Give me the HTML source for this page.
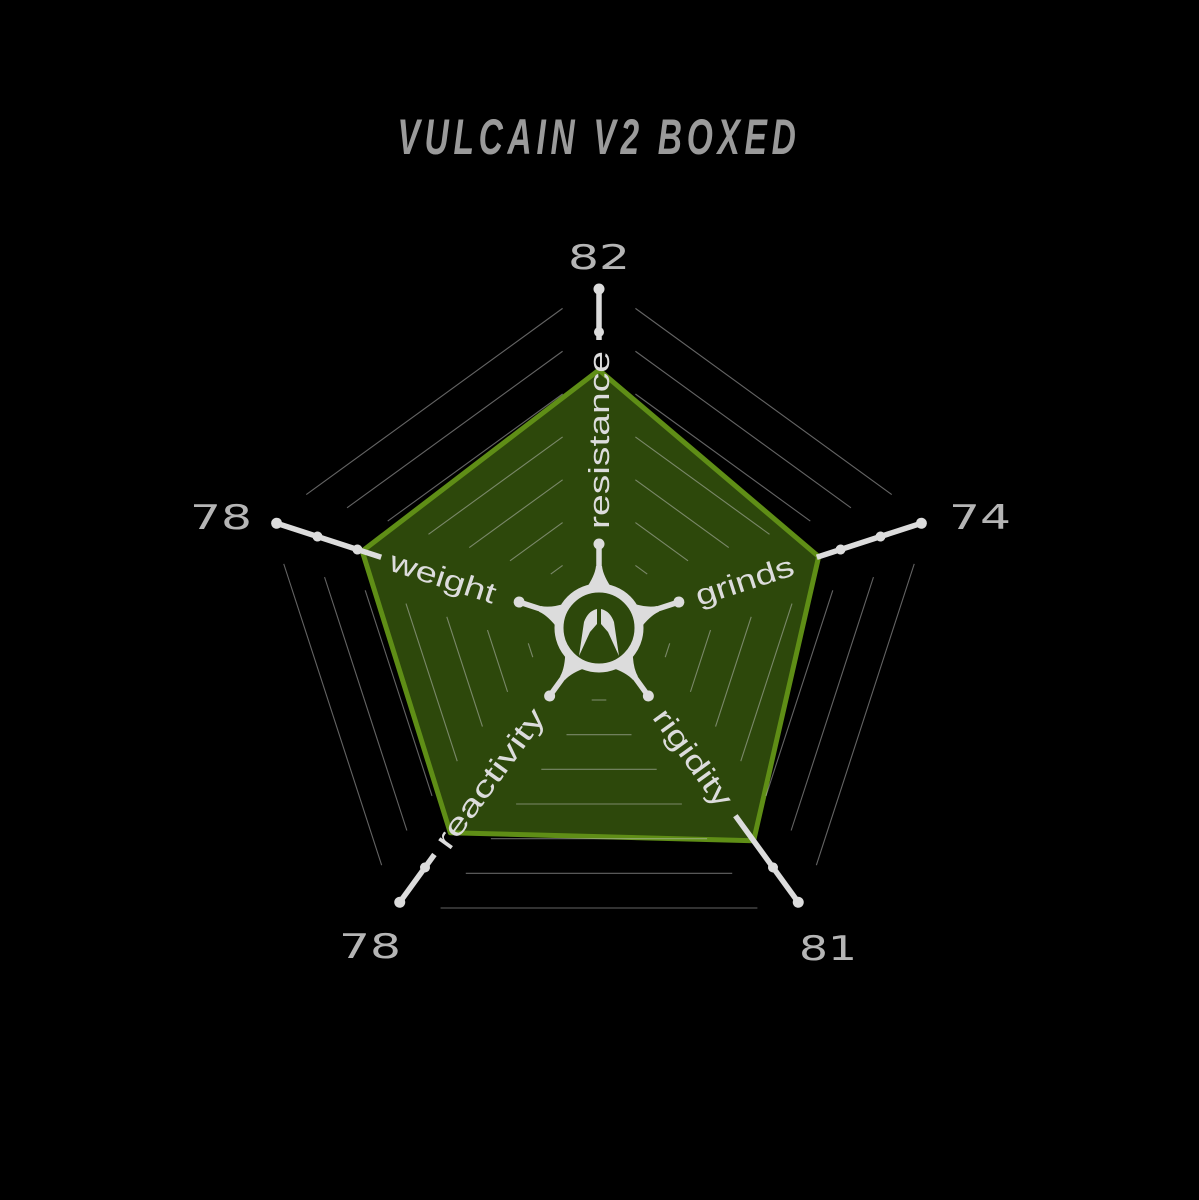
<!DOCTYPE html>
<html><head><meta charset="utf-8"><style>
html,body{margin:0;padding:0;background:#000;}
svg{display:block;}
</style></head><body>
<svg width="1199" height="1200" viewBox="0 0 1199 1200" xmlns="http://www.w3.org/2000/svg">
<rect width="1199" height="1200" fill="#000"/>
<text x="599" y="154" text-anchor="middle" textLength="403" lengthAdjust="spacingAndGlyphs" letter-spacing="7" font-family="Liberation Sans, sans-serif" font-style="italic" font-weight="bold" font-size="50" fill="#9a9a9a">VULCAIN V2 BOXED</text>

<polygon points="599,370 818.7,556.6 753.6,840.8 450.3,832.7 362.2,551.1" fill="#2d480b" stroke="#5f8e16" stroke-width="5" stroke-linejoin="round"/>

<defs>
<g id="gl" stroke="rgba(200,200,200,0.5)" stroke-width="1.1">
<line x1="72" y1="-7.3" x2="72" y2="7.3"/>
<line x1="106.7" y1="-32.5" x2="106.7" y2="32.5"/>
<line x1="141.3" y1="-57.7" x2="141.3" y2="57.7"/>
<line x1="176" y1="-82.9" x2="176" y2="82.9"/>
<line x1="210.7" y1="-108.1" x2="210.7" y2="108.1"/>
<line x1="245.3" y1="-133.2" x2="245.3" y2="133.2"/>
<line x1="280" y1="-158.4" x2="280" y2="158.4"/>
</g>
<g id="tip">
<circle cx="339" cy="0" r="5.5" fill="#dcdcdc"/>
<circle cx="296" cy="0" r="5" fill="#dcdcdc"/>
</g>
<g id="hub">
<line x1="40" y1="0" x2="86" y2="0" stroke="#dcdcdc" stroke-width="5.5"/>
<circle cx="84" cy="0" r="5.5" fill="#dcdcdc"/>
<path d="M38,-14 Q52,-4 62,-3 L62,3 Q52,4 38,14 Z" fill="#dcdcdc"/>
</g>
</defs>

<g transform="translate(599,628)">
<use href="#gl" transform="rotate(-54)"/>
<use href="#gl" transform="rotate(18)"/>
<use href="#gl" transform="rotate(90)"/>
<use href="#gl" transform="rotate(162)"/>
<use href="#gl" transform="rotate(234)"/>
<g stroke="#dcdcdc" stroke-width="5.5">
<line transform="rotate(-90)" x1="288" y1="0" x2="339" y2="0"/>
<line transform="rotate(-18)" x1="229" y1="0" x2="339" y2="0"/>
<line transform="rotate(54)" x1="232" y1="0" x2="339" y2="0"/>
<line transform="rotate(126)" x1="280" y1="0" x2="339" y2="0"/>
<line transform="rotate(198)" x1="229" y1="0" x2="339" y2="0"/>
</g>
<g fill="#dcdcdc">
<circle transform="rotate(-18)" cx="254" cy="0" r="5"/>
<circle transform="rotate(198)" cx="254" cy="0" r="5"/>
</g>
<use href="#tip" transform="rotate(-90)"/>
<use href="#tip" transform="rotate(-18)"/>
<use href="#tip" transform="rotate(54)"/>
<use href="#tip" transform="rotate(126)"/>
<use href="#tip" transform="rotate(198)"/>
<use href="#hub" transform="rotate(-90)"/>
<use href="#hub" transform="rotate(-18)"/>
<use href="#hub" transform="rotate(54)"/>
<use href="#hub" transform="rotate(126)"/>
<use href="#hub" transform="rotate(198)"/>
<circle cx="0" cy="0" r="40" fill="none" stroke="#dcdcdc" stroke-width="9"/>
<path d="M-20,28 L-15,-6 Q-11,-17 -2,-19 L-2,-4 L-9,4 Z" fill="#dcdcdc"/>
<path d="M20,28 L15,-6 Q11,-17 2,-19 L2,-4 L9,4 Z" fill="#dcdcdc"/>

<g font-family="Liberation Sans, DejaVu Sans, sans-serif" font-size="29" fill="#dcdcdc" text-anchor="middle">
<text transform="rotate(-90)" x="188" y="10" textLength="178" lengthAdjust="spacingAndGlyphs">resistance</text>
<text transform="rotate(-18)" x="153" y="10" textLength="102" lengthAdjust="spacingAndGlyphs">grinds</text>
<text transform="rotate(54)" x="160" y="10" textLength="114" lengthAdjust="spacingAndGlyphs">rigidity</text>
<text transform="rotate(-54)" x="-186" y="10" textLength="166" lengthAdjust="spacingAndGlyphs">reactivity</text>
<text transform="rotate(18)" x="-164" y="10" textLength="110" lengthAdjust="spacingAndGlyphs">weight</text>
</g>
</g>

<g font-family="DejaVu Sans, Liberation Sans, sans-serif" font-size="34" fill="#b5b5b5" text-anchor="middle">
<text x="599" y="269" textLength="62" lengthAdjust="spacingAndGlyphs">82</text>
<text x="980" y="529" textLength="62" lengthAdjust="spacingAndGlyphs">74</text>
<text x="828" y="960" textLength="58" lengthAdjust="spacingAndGlyphs">81</text>
<text x="370" y="958" textLength="62" lengthAdjust="spacingAndGlyphs">78</text>
<text x="221" y="529" textLength="62" lengthAdjust="spacingAndGlyphs">78</text>
</g>
</svg>
</body></html>
